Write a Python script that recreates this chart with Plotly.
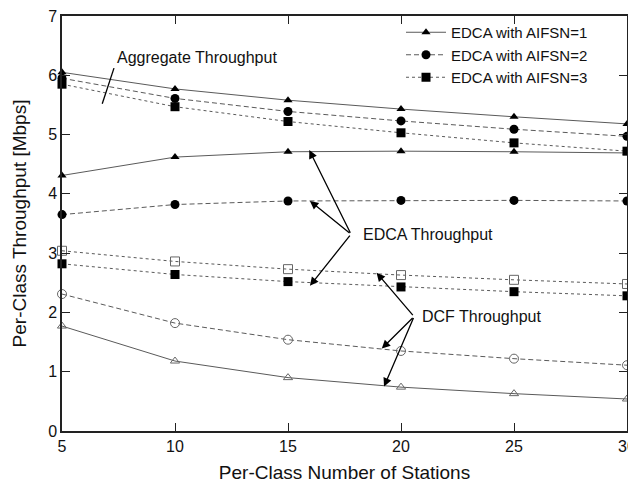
import plotly.graph_objects as go

stations = [5, 10, 15, 20, 25, 30]

agg_aifsn1 = [6.05, 5.77, 5.58, 5.43, 5.30, 5.18]
agg_aifsn2 = [5.95, 5.61, 5.39, 5.23, 5.09, 4.97]
agg_aifsn3 = [5.85, 5.47, 5.22, 5.03, 4.86, 4.72]

edca_aifsn1 = [4.31, 4.62, 4.71, 4.72, 4.71, 4.69]
edca_aifsn2 = [3.65, 3.82, 3.88, 3.89, 3.89, 3.88]
edca_aifsn3 = [2.82, 2.64, 2.52, 2.43, 2.35, 2.28]

dcf_aifsn1 = [1.77, 1.18, 0.90, 0.74, 0.63, 0.54]
dcf_aifsn2 = [2.31, 1.82, 1.54, 1.35, 1.22, 1.11]
dcf_aifsn3 = [3.04, 2.86, 2.73, 2.63, 2.55, 2.48]

legend_names = ["EDCA with AIFSN=1", "EDCA with AIFSN=2", "EDCA with AIFSN=3"]

FONT = "Liberation Sans, Arial, sans-serif"
LINE_COL = "#5a5a5a"
DASHES = ["solid", "5px,3px", "3px,3px"]
FILLED = ["triangle-up", "circle", "square"]
OPEN = ["triangle-up-open", "circle-open", "square-open"]
MSIZE = [8, 9, 9]

fig = go.Figure()

groups = [
    (agg_aifsn1, edca_aifsn1, dcf_aifsn1),
    (agg_aifsn2, edca_aifsn2, dcf_aifsn2),
    (agg_aifsn3, edca_aifsn3, dcf_aifsn3),
]

for i, (agg, edca, dcf) in enumerate(groups):
    fig.add_trace(go.Scatter(
        x=stations, y=agg, mode="lines+markers", name=legend_names[i],
        line=dict(color=LINE_COL, width=1, dash=DASHES[i]),
        marker=dict(symbol=FILLED[i], size=MSIZE[i], color="black"),
        cliponaxis=False, legendgroup=str(i), showlegend=True))
    fig.add_trace(go.Scatter(
        x=stations, y=edca, mode="lines+markers", name=legend_names[i],
        line=dict(color=LINE_COL, width=1, dash=DASHES[i]),
        marker=dict(symbol=FILLED[i], size=MSIZE[i], color="black"),
        cliponaxis=False, legendgroup=str(i), showlegend=False))
    fig.add_trace(go.Scatter(
        x=stations, y=dcf, mode="lines+markers", name="DCF " + legend_names[i],
        line=dict(color=LINE_COL, width=1, dash=DASHES[i]),
        marker=dict(symbol=OPEN[i], size=MSIZE[i], color="#666666",
                    line=dict(width=1, color="#666666")),
        cliponaxis=False, showlegend=False))

annotations = [
    dict(x=7.35, y=6.30, text="Aggregate Throughput", showarrow=False,
         xanchor="left", yanchor="middle"),
    dict(x=18.22, y=3.31, text="EDCA Throughput", showarrow=False,
         xanchor="left", yanchor="middle"),
    dict(x=20.84, y=1.93, text="DCF Throughput", showarrow=False,
         xanchor="left", yanchor="middle"),
]
# EDCA arrows
for hx, hy in [(15.94, 4.74), (15.97, 3.88), (15.97, 2.45)]:
    annotations.append(dict(x=hx, y=hy, ax=17.79, ay=3.32, axref="x", ayref="y",
                            text="", showarrow=True, arrowhead=2, arrowsize=1.3,
                            arrowwidth=1.3, arrowcolor="black"))
# DCF arrows
for hx, hy in [(18.92, 2.67), (19.15, 1.39), (19.25, 0.75)]:
    annotations.append(dict(x=hx, y=hy, ax=20.58, ay=1.93, axref="x", ayref="y",
                            text="", showarrow=True, arrowhead=2, arrowsize=1.3,
                            arrowwidth=1.3, arrowcolor="black"))

# the page body has an 8px margin, so the figure is sized to end at 636x483
fig.update_layout(
    width=628, height=475,
    margin=dict(l=54, r=9, t=8, b=52),
    paper_bgcolor="white", plot_bgcolor="white",
    font=dict(family=FONT, size=16, color="#111111"),
    annotations=annotations,
    shapes=[dict(type="line", xref="x", yref="y", x0=7.30, y0=6.12, x1=6.78, y1=5.52,
                 line=dict(color="black", width=1.3))],
    legend=dict(x=0.60, y=1.0, xanchor="left", yanchor="top",
                bgcolor="rgba(0,0,0,0)", font=dict(size=15, family=FONT),
                itemwidth=40, tracegroupgap=0),
    xaxis=dict(range=[5, 30], tickvals=[5, 10, 15, 20, 25, 30],
               title=dict(text="Per-Class Number of Stations", standoff=14),
               automargin=False, ticklabeloverflow="allow",
               showgrid=False, zeroline=False, showline=True, linecolor="#222222",
               linewidth=1.5, mirror="ticks", ticks="inside", ticklen=8,
               tickcolor="#222222"),
    yaxis=dict(range=[0, 7], tickvals=[0, 1, 2, 3, 4, 5, 6, 7],
               title=dict(text="Per-Class Throughput [Mbps]", standoff=16),
               automargin=False, ticklabeloverflow="allow",
               showgrid=False, zeroline=False, showline=True, linecolor="#222222",
               linewidth=1.5, mirror="ticks", ticks="inside", ticklen=8,
               tickcolor="#222222"),
)

fig.write_html("out.html")
